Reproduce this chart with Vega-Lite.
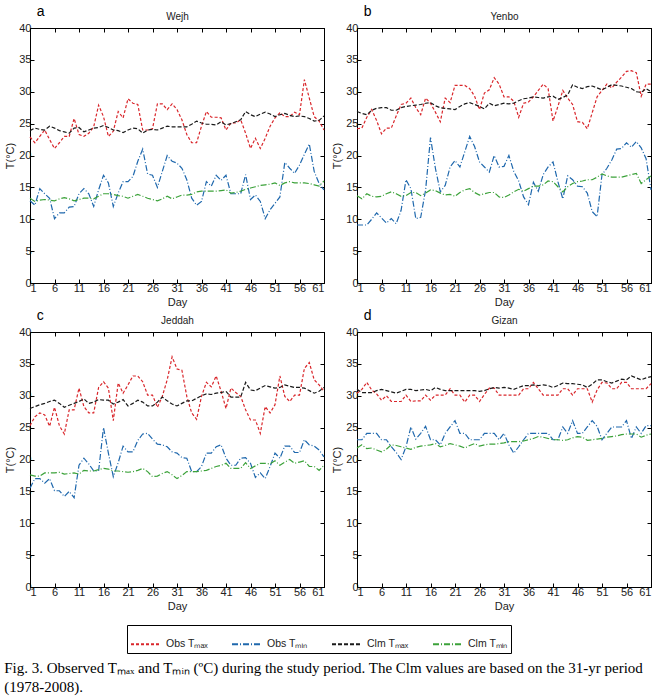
{
"$schema": "https://vega.github.io/schema/vega-lite/v6.json",
"padding": {"left": 4, "top": 4, "right": 2, "bottom": 2},
"background": "white",
"datasets": {"t": [
{"s":"Wejh","d":1,"otx":22.9,"otn":12.9,"ctx":23.9,"ctn":13.3},
{"s":"Wejh","d":2,"otx":22,"otn":12.2,"ctx":24.3,"ctn":12.8},
{"s":"Wejh","d":3,"otx":23,"otn":14.8,"ctx":24.1,"ctn":13},
{"s":"Wejh","d":4,"otx":24,"otn":14,"ctx":24,"ctn":13.1},
{"s":"Wejh","d":5,"otx":22.5,"otn":13.3,"ctx":24.6,"ctn":13},
{"s":"Wejh","d":6,"otx":21.1,"otn":10.1,"ctx":24.3,"ctn":12.9},
{"s":"Wejh","d":7,"otx":22,"otn":11,"ctx":23.9,"ctn":13.2},
{"s":"Wejh","d":8,"otx":23,"otn":11,"ctx":23.7,"ctn":13.4},
{"s":"Wejh","d":9,"otx":23,"otn":11.9,"ctx":23.5,"ctn":13.2},
{"s":"Wejh","d":10,"otx":25.8,"otn":12,"ctx":24.3,"ctn":12.9},
{"s":"Wejh","d":11,"otx":23.3,"otn":14,"ctx":24.4,"ctn":13.1},
{"s":"Wejh","d":12,"otx":23,"otn":14.8,"ctx":23.7,"ctn":13.3},
{"s":"Wejh","d":13,"otx":23.5,"otn":14,"ctx":24,"ctn":13.3},
{"s":"Wejh","d":14,"otx":24.5,"otn":12,"ctx":24.3,"ctn":13.2},
{"s":"Wejh","d":15,"otx":27.9,"otn":14.6,"ctx":24.4,"ctn":13.6},
{"s":"Wejh","d":16,"otx":26.1,"otn":16.9,"ctx":24.7,"ctn":14},
{"s":"Wejh","d":17,"otx":23,"otn":15.7,"ctx":24.4,"ctn":14},
{"s":"Wejh","d":18,"otx":23.8,"otn":12,"ctx":24,"ctn":13.9},
{"s":"Wejh","d":19,"otx":26.9,"otn":14.1,"ctx":23.9,"ctn":13.7},
{"s":"Wejh","d":20,"otx":25.9,"otn":15.9,"ctx":23.6,"ctn":13.6},
{"s":"Wejh","d":21,"otx":28.9,"otn":15.9,"ctx":24,"ctn":13.3},
{"s":"Wejh","d":22,"otx":28.2,"otn":16.7,"ctx":24.3,"ctn":13.6},
{"s":"Wejh","d":23,"otx":28,"otn":19.1,"ctx":24.2,"ctn":13.9},
{"s":"Wejh","d":24,"otx":24,"otn":21,"ctx":23.5,"ctn":13.6},
{"s":"Wejh","d":25,"otx":24,"otn":17.1,"ctx":24,"ctn":13.3},
{"s":"Wejh","d":26,"otx":24.2,"otn":16.9,"ctx":24.1,"ctn":13.1},
{"s":"Wejh","d":27,"otx":28.1,"otn":15,"ctx":24,"ctn":12.9},
{"s":"Wejh","d":28,"otx":28.1,"otn":17.5,"ctx":24.3,"ctn":13.2},
{"s":"Wejh","d":29,"otx":27.2,"otn":20,"ctx":24.6,"ctn":13.6},
{"s":"Wejh","d":30,"otx":28.1,"otn":19.1,"ctx":24.5,"ctn":13.2},
{"s":"Wejh","d":31,"otx":27.2,"otn":18.8,"ctx":24.5,"ctn":13.5},
{"s":"Wejh","d":32,"otx":25.6,"otn":18,"ctx":24.5,"ctn":13.8},
{"s":"Wejh","d":33,"otx":23.3,"otn":16.2,"ctx":24.5,"ctn":13.8},
{"s":"Wejh","d":34,"otx":22,"otn":13.3,"ctx":24.9,"ctn":13.9},
{"s":"Wejh","d":35,"otx":22,"otn":12.2,"ctx":25.4,"ctn":14.3},
{"s":"Wejh","d":36,"otx":24.6,"otn":12.8,"ctx":25.1,"ctn":14.4},
{"s":"Wejh","d":37,"otx":26.9,"otn":15.9,"ctx":24.9,"ctn":14.4},
{"s":"Wejh","d":38,"otx":26,"otn":15.2,"ctx":24.9,"ctn":14.4},
{"s":"Wejh","d":39,"otx":26,"otn":16.9,"ctx":24.8,"ctn":14.4},
{"s":"Wejh","d":40,"otx":25.9,"otn":16.1,"ctx":25.3,"ctn":14.5},
{"s":"Wejh","d":41,"otx":24,"otn":16.9,"ctx":24.8,"ctn":14.6},
{"s":"Wejh","d":42,"otx":25.1,"otn":14,"ctx":25,"ctn":14.1},
{"s":"Wejh","d":43,"otx":25.1,"otn":14,"ctx":25.3,"ctn":14.2},
{"s":"Wejh","d":44,"otx":25.6,"otn":14,"ctx":25.6,"ctn":14.4},
{"s":"Wejh","d":45,"otx":23.5,"otn":17,"ctx":26.9,"ctn":14.7},
{"s":"Wejh","d":46,"otx":21.1,"otn":13.1,"ctx":26.4,"ctn":14.9},
{"s":"Wejh","d":47,"otx":22.7,"otn":13.8,"ctx":26.1,"ctn":15.1},
{"s":"Wejh","d":48,"otx":21.1,"otn":12.8,"ctx":26.5,"ctn":15.3},
{"s":"Wejh","d":49,"otx":22.7,"otn":10.1,"ctx":26.8,"ctn":15.4},
{"s":"Wejh","d":50,"otx":24.6,"otn":11.5,"ctx":26.5,"ctn":15.5},
{"s":"Wejh","d":51,"otx":25.9,"otn":12.5,"ctx":26.1,"ctn":15.7},
{"s":"Wejh","d":52,"otx":26.7,"otn":13.5,"ctx":26.4,"ctn":15.3},
{"s":"Wejh","d":53,"otx":26.1,"otn":18.9,"ctx":26.6,"ctn":15.7},
{"s":"Wejh","d":54,"otx":26.1,"otn":18,"ctx":26.3,"ctn":15.9},
{"s":"Wejh","d":55,"otx":26.8,"otn":17.2,"ctx":26.1,"ctn":15.7},
{"s":"Wejh","d":56,"otx":26.4,"otn":18.5,"ctx":26.2,"ctn":15.7},
{"s":"Wejh","d":57,"otx":31.9,"otn":20.2,"ctx":26.1,"ctn":15.7},
{"s":"Wejh","d":58,"otx":29,"otn":21.8,"ctx":25.8,"ctn":15.6},
{"s":"Wejh","d":59,"otx":26.1,"otn":17.5,"ctx":25.4,"ctn":15.4},
{"s":"Wejh","d":60,"otx":25.4,"otn":15.6,"ctx":25.5,"ctn":15.2},
{"s":"Wejh","d":61,"otx":24,"otn":14.6,"ctx":26.2,"ctn":16},
{"s":"Yenbo","d":1,"otx":24.2,"otn":9.1,"ctx":26.9,"ctn":13.7},
{"s":"Yenbo","d":2,"otx":24.3,"otn":9.1,"ctx":26.6,"ctn":13.2},
{"s":"Yenbo","d":3,"otx":26,"otn":9.1,"ctx":26.4,"ctn":14},
{"s":"Yenbo","d":4,"otx":27.2,"otn":10,"ctx":27.1,"ctn":13.6},
{"s":"Yenbo","d":5,"otx":25.5,"otn":11,"ctx":27.4,"ctn":13.5},
{"s":"Yenbo","d":6,"otx":23.4,"otn":10.2,"ctx":27.5,"ctn":13.6},
{"s":"Yenbo","d":7,"otx":24.3,"otn":9.4,"ctx":27.5,"ctn":14},
{"s":"Yenbo","d":8,"otx":24.3,"otn":10.1,"ctx":27.1,"ctn":14.3},
{"s":"Yenbo","d":9,"otx":26.2,"otn":9.3,"ctx":27.1,"ctn":14},
{"s":"Yenbo","d":10,"otx":28,"otn":11.4,"ctx":27.5,"ctn":13.6},
{"s":"Yenbo","d":11,"otx":28.2,"otn":16.2,"ctx":27.7,"ctn":13.7},
{"s":"Yenbo","d":12,"otx":29,"otn":14.8,"ctx":27.8,"ctn":14.2},
{"s":"Yenbo","d":13,"otx":27.5,"otn":10.1,"ctx":27.9,"ctn":14.2},
{"s":"Yenbo","d":14,"otx":26.4,"otn":10.3,"ctx":28,"ctn":13.7},
{"s":"Yenbo","d":15,"otx":29,"otn":14.6,"ctx":28.2,"ctn":14.1},
{"s":"Yenbo","d":16,"otx":28.2,"otn":22.8,"ctx":28.3,"ctn":14.6},
{"s":"Yenbo","d":17,"otx":26.8,"otn":18,"ctx":27.8,"ctn":14.5},
{"s":"Yenbo","d":18,"otx":25.3,"otn":14.3,"ctx":27.5,"ctn":14.1},
{"s":"Yenbo","d":19,"otx":29,"otn":15.3,"ctx":27.4,"ctn":13.8},
{"s":"Yenbo","d":20,"otx":28.3,"otn":18.2,"ctx":27.3,"ctn":13.9},
{"s":"Yenbo","d":21,"otx":31,"otn":19.2,"ctx":27.2,"ctn":13.6},
{"s":"Yenbo","d":22,"otx":31,"otn":18.2,"ctx":27.7,"ctn":14.2},
{"s":"Yenbo","d":23,"otx":31,"otn":20.6,"ctx":28.1,"ctn":14.6},
{"s":"Yenbo","d":24,"otx":30.5,"otn":23,"ctx":28.3,"ctn":14.8},
{"s":"Yenbo","d":25,"otx":29.3,"otn":21.4,"ctx":28,"ctn":14.2},
{"s":"Yenbo","d":26,"otx":27.2,"otn":19,"ctx":27.7,"ctn":13.8},
{"s":"Yenbo","d":27,"otx":29.8,"otn":18.2,"ctx":27.3,"ctn":14},
{"s":"Yenbo","d":28,"otx":30.3,"otn":17.4,"ctx":28.2,"ctn":14.2},
{"s":"Yenbo","d":29,"otx":32.2,"otn":20,"ctx":27.8,"ctn":14.2},
{"s":"Yenbo","d":30,"otx":31.2,"otn":18.2,"ctx":28,"ctn":13.5},
{"s":"Yenbo","d":31,"otx":29.2,"otn":18.3,"ctx":28.2,"ctn":13.4},
{"s":"Yenbo","d":32,"otx":29.2,"otn":20,"ctx":28.1,"ctn":13.8},
{"s":"Yenbo","d":33,"otx":28.5,"otn":17.5,"ctx":28.2,"ctn":14.3},
{"s":"Yenbo","d":34,"otx":26,"otn":16,"ctx":28.6,"ctn":14.7},
{"s":"Yenbo","d":35,"otx":28.2,"otn":13.5,"ctx":28.9,"ctn":14.4},
{"s":"Yenbo","d":36,"otx":28.4,"otn":12.3,"ctx":29,"ctn":14.8},
{"s":"Yenbo","d":37,"otx":29.2,"otn":15.8,"ctx":29.2,"ctn":15.2},
{"s":"Yenbo","d":38,"otx":30.2,"otn":14.4,"ctx":29.1,"ctn":15.2},
{"s":"Yenbo","d":39,"otx":31.2,"otn":17,"ctx":29,"ctn":15.4},
{"s":"Yenbo","d":40,"otx":30.5,"otn":18.2,"ctx":29.2,"ctn":16},
{"s":"Yenbo","d":41,"otx":25.4,"otn":19,"ctx":29.3,"ctn":15.9},
{"s":"Yenbo","d":42,"otx":27.7,"otn":15.9,"ctx":28.8,"ctn":15.1},
{"s":"Yenbo","d":43,"otx":30.2,"otn":13.2,"ctx":29.1,"ctn":14.3},
{"s":"Yenbo","d":44,"otx":29,"otn":16.8,"ctx":29.5,"ctn":15.1},
{"s":"Yenbo","d":45,"otx":28,"otn":16.2,"ctx":31.1,"ctn":15.6},
{"s":"Yenbo","d":46,"otx":25.3,"otn":15.2,"ctx":30.7,"ctn":15.9},
{"s":"Yenbo","d":47,"otx":25.2,"otn":15.1,"ctx":30.5,"ctn":16},
{"s":"Yenbo","d":48,"otx":24.2,"otn":14.1,"ctx":30.8,"ctn":16.2},
{"s":"Yenbo","d":49,"otx":26.7,"otn":11.2,"ctx":30.9,"ctn":16.2},
{"s":"Yenbo","d":50,"otx":29.2,"otn":10.4,"ctx":30.6,"ctn":16.6},
{"s":"Yenbo","d":51,"otx":30.2,"otn":17,"ctx":30.3,"ctn":17.1},
{"s":"Yenbo","d":52,"otx":31.2,"otn":18,"ctx":30.7,"ctn":16.8},
{"s":"Yenbo","d":53,"otx":30.6,"otn":19.3,"ctx":31.1,"ctn":16.6},
{"s":"Yenbo","d":54,"otx":31.5,"otn":21,"ctx":31,"ctn":16.6},
{"s":"Yenbo","d":55,"otx":32.3,"otn":21.1,"ctx":30.9,"ctn":16.6},
{"s":"Yenbo","d":56,"otx":33.2,"otn":22,"ctx":30.7,"ctn":16.8},
{"s":"Yenbo","d":57,"otx":33.3,"otn":21.3,"ctx":30.5,"ctn":17},
{"s":"Yenbo","d":58,"otx":33,"otn":22.2,"ctx":30,"ctn":17.2},
{"s":"Yenbo","d":59,"otx":29.3,"otn":21.2,"ctx":29.9,"ctn":15.6},
{"s":"Yenbo","d":60,"otx":31.2,"otn":19.5,"ctx":30.5,"ctn":16.2},
{"s":"Yenbo","d":61,"otx":31.2,"otn":14.6,"ctx":30,"ctn":16.8},
{"s":"Jeddah","d":1,"otx":25.3,"otn":15.5,"ctx":28,"ctn":17.6},
{"s":"Jeddah","d":2,"otx":26.7,"otn":17,"ctx":28.3,"ctn":17.4},
{"s":"Jeddah","d":3,"otx":27.3,"otn":17,"ctx":28.6,"ctn":17.4},
{"s":"Jeddah","d":4,"otx":27,"otn":16.3,"ctx":28.8,"ctn":17.9},
{"s":"Jeddah","d":5,"otx":25.2,"otn":17,"ctx":29.1,"ctn":17.9},
{"s":"Jeddah","d":6,"otx":28.2,"otn":15.1,"ctx":29.3,"ctn":17.9},
{"s":"Jeddah","d":7,"otx":25.3,"otn":15.1,"ctx":28.8,"ctn":18},
{"s":"Jeddah","d":8,"otx":24,"otn":14.2,"ctx":28.2,"ctn":17.7},
{"s":"Jeddah","d":9,"otx":27.8,"otn":15,"ctx":28.5,"ctn":17.8},
{"s":"Jeddah","d":10,"otx":27.8,"otn":14,"ctx":28.8,"ctn":17.9},
{"s":"Jeddah","d":11,"otx":31.2,"otn":19.1,"ctx":29.1,"ctn":17.7},
{"s":"Jeddah","d":12,"otx":28.3,"otn":20.2,"ctx":29.5,"ctn":18.3},
{"s":"Jeddah","d":13,"otx":27.3,"otn":19.3,"ctx":28.8,"ctn":18.2},
{"s":"Jeddah","d":14,"otx":27.3,"otn":18.2,"ctx":29,"ctn":18.2},
{"s":"Jeddah","d":15,"otx":31.3,"otn":18.2,"ctx":29.4,"ctn":18.4},
{"s":"Jeddah","d":16,"otx":32.2,"otn":25,"ctx":29.3,"ctn":18.6},
{"s":"Jeddah","d":17,"otx":31.2,"otn":21,"ctx":29.3,"ctn":18.5},
{"s":"Jeddah","d":18,"otx":26.1,"otn":17.3,"ctx":28.7,"ctn":18.2},
{"s":"Jeddah","d":19,"otx":32,"otn":19.5,"ctx":29,"ctn":18.2},
{"s":"Jeddah","d":20,"otx":30.4,"otn":22.1,"ctx":29.4,"ctn":18.1},
{"s":"Jeddah","d":21,"otx":31.7,"otn":21.2,"ctx":28.4,"ctn":18},
{"s":"Jeddah","d":22,"otx":33.1,"otn":21.2,"ctx":28.8,"ctn":18.1},
{"s":"Jeddah","d":23,"otx":33.1,"otn":23,"ctx":29.3,"ctn":18.3},
{"s":"Jeddah","d":24,"otx":32.2,"otn":24,"ctx":29,"ctn":18.6},
{"s":"Jeddah","d":25,"otx":30.1,"otn":24.1,"ctx":28.4,"ctn":18.1},
{"s":"Jeddah","d":26,"otx":30.1,"otn":23.2,"ctx":28.4,"ctn":17.3},
{"s":"Jeddah","d":27,"otx":28.2,"otn":22.4,"ctx":29,"ctn":17.4},
{"s":"Jeddah","d":28,"otx":29.9,"otn":22.3,"ctx":29.8,"ctn":17.8},
{"s":"Jeddah","d":29,"otx":32.5,"otn":22,"ctx":29.2,"ctn":18.1},
{"s":"Jeddah","d":30,"otx":36.1,"otn":21.2,"ctx":28.7,"ctn":17.6},
{"s":"Jeddah","d":31,"otx":34.2,"otn":21,"ctx":28.4,"ctn":17},
{"s":"Jeddah","d":32,"otx":34,"otn":20.3,"ctx":28.8,"ctn":17.5},
{"s":"Jeddah","d":33,"otx":29.9,"otn":20.2,"ctx":29.2,"ctn":18.1},
{"s":"Jeddah","d":34,"otx":27.3,"otn":18.1,"ctx":29.2,"ctn":18.1},
{"s":"Jeddah","d":35,"otx":26.3,"otn":18.1,"ctx":29.6,"ctn":18.1},
{"s":"Jeddah","d":36,"otx":29.9,"otn":18.9,"ctx":30,"ctn":18.2},
{"s":"Jeddah","d":37,"otx":32.1,"otn":21,"ctx":30.3,"ctn":18.3},
{"s":"Jeddah","d":38,"otx":31.4,"otn":21,"ctx":30.2,"ctn":18.6},
{"s":"Jeddah","d":39,"otx":33.1,"otn":22,"ctx":30.4,"ctn":18.9},
{"s":"Jeddah","d":40,"otx":30.7,"otn":22.3,"ctx":30.5,"ctn":19.1},
{"s":"Jeddah","d":41,"otx":28,"otn":20.2,"ctx":30.7,"ctn":19.4},
{"s":"Jeddah","d":42,"otx":31.2,"otn":19.1,"ctx":29.8,"ctn":18.6},
{"s":"Jeddah","d":43,"otx":30.5,"otn":19.1,"ctx":29.8,"ctn":18.6},
{"s":"Jeddah","d":44,"otx":29.9,"otn":20.2,"ctx":29.8,"ctn":18.6},
{"s":"Jeddah","d":45,"otx":27.8,"otn":20.3,"ctx":32.1,"ctn":19.5},
{"s":"Jeddah","d":46,"otx":26.2,"otn":19.4,"ctx":30.9,"ctn":18.6},
{"s":"Jeddah","d":47,"otx":26.2,"otn":17.2,"ctx":30.8,"ctn":19},
{"s":"Jeddah","d":48,"otx":24.1,"otn":17.9,"ctx":31.2,"ctn":19.4},
{"s":"Jeddah","d":49,"otx":28.3,"otn":17,"ctx":31.6,"ctn":19.4},
{"s":"Jeddah","d":50,"otx":27.3,"otn":18.9,"ctx":31.4,"ctn":19.3},
{"s":"Jeddah","d":51,"otx":28.6,"otn":21,"ctx":31.2,"ctn":19.8},
{"s":"Jeddah","d":52,"otx":33.1,"otn":20.2,"ctx":31.3,"ctn":19.1},
{"s":"Jeddah","d":53,"otx":29.9,"otn":22.1,"ctx":31.7,"ctn":19.6},
{"s":"Jeddah","d":54,"otx":29.1,"otn":22.1,"ctx":31.5,"ctn":20},
{"s":"Jeddah","d":55,"otx":30.1,"otn":21.1,"ctx":31.3,"ctn":19.4},
{"s":"Jeddah","d":56,"otx":30.1,"otn":21.1,"ctx":31.3,"ctn":19.6},
{"s":"Jeddah","d":57,"otx":34.3,"otn":23.1,"ctx":31.2,"ctn":19.8},
{"s":"Jeddah","d":58,"otx":35.2,"otn":22.3,"ctx":30.8,"ctn":18.9},
{"s":"Jeddah","d":59,"otx":32.5,"otn":22.1,"ctx":30.4,"ctn":18.9},
{"s":"Jeddah","d":60,"otx":31.7,"otn":21.5,"ctx":30.7,"ctn":18.3},
{"s":"Jeddah","d":61,"otx":30.7,"otn":20.4,"ctx":31.3,"ctn":19.1},
{"s":"Gizan","d":1,"otx":30.4,"otn":23.1,"ctx":31,"ctn":21.8},
{"s":"Gizan","d":2,"otx":31,"otn":23.1,"ctx":30.5,"ctn":22.3},
{"s":"Gizan","d":3,"otx":32.1,"otn":24.1,"ctx":30.5,"ctn":21.7},
{"s":"Gizan","d":4,"otx":30.9,"otn":24.1,"ctx":30.5,"ctn":21.8},
{"s":"Gizan","d":5,"otx":30.3,"otn":24.1,"ctx":30.8,"ctn":21.5},
{"s":"Gizan","d":6,"otx":29.3,"otn":23.1,"ctx":31,"ctn":21.2},
{"s":"Gizan","d":7,"otx":30,"otn":23.1,"ctx":30.8,"ctn":21.6},
{"s":"Gizan","d":8,"otx":29.1,"otn":22,"ctx":30.6,"ctn":22.3},
{"s":"Gizan","d":9,"otx":29.1,"otn":21.1,"ctx":30.4,"ctn":22.2},
{"s":"Gizan","d":10,"otx":29.1,"otn":20,"ctx":30.7,"ctn":22},
{"s":"Gizan","d":11,"otx":30.1,"otn":22,"ctx":31,"ctn":21.8},
{"s":"Gizan","d":12,"otx":29.1,"otn":25.1,"ctx":31,"ctn":21.6},
{"s":"Gizan","d":13,"otx":29.2,"otn":23.2,"ctx":30.8,"ctn":21.9},
{"s":"Gizan","d":14,"otx":29.2,"otn":24.1,"ctx":30.9,"ctn":22.1},
{"s":"Gizan","d":15,"otx":30.1,"otn":25.2,"ctx":31,"ctn":22.2},
{"s":"Gizan","d":16,"otx":29.3,"otn":23.1,"ctx":30.8,"ctn":22.3},
{"s":"Gizan","d":17,"otx":30.1,"otn":23.1,"ctx":31.3,"ctn":22.5},
{"s":"Gizan","d":18,"otx":30.1,"otn":22.3,"ctx":31,"ctn":22},
{"s":"Gizan","d":19,"otx":30.1,"otn":24.1,"ctx":30.8,"ctn":22.2},
{"s":"Gizan","d":20,"otx":31.1,"otn":25.1,"ctx":30.8,"ctn":22.5},
{"s":"Gizan","d":21,"otx":30.1,"otn":26.1,"ctx":30.8,"ctn":22.3},
{"s":"Gizan","d":22,"otx":30.1,"otn":24.1,"ctx":30.8,"ctn":22.1},
{"s":"Gizan","d":23,"otx":29,"otn":24.1,"ctx":30.8,"ctn":21.8},
{"s":"Gizan","d":24,"otx":30.1,"otn":23.1,"ctx":30.8,"ctn":22.2},
{"s":"Gizan","d":25,"otx":30.1,"otn":23.1,"ctx":30.8,"ctn":22.5},
{"s":"Gizan","d":26,"otx":29.1,"otn":23.1,"ctx":30.7,"ctn":22.1},
{"s":"Gizan","d":27,"otx":30.2,"otn":24.1,"ctx":30.8,"ctn":22.3},
{"s":"Gizan","d":28,"otx":31.2,"otn":24.1,"ctx":31.1,"ctn":22.4},
{"s":"Gizan","d":29,"otx":31.2,"otn":24.1,"ctx":31.3,"ctn":22.4},
{"s":"Gizan","d":30,"otx":30.1,"otn":23.1,"ctx":31.2,"ctn":22.5},
{"s":"Gizan","d":31,"otx":30.1,"otn":24.1,"ctx":31.3,"ctn":22.6},
{"s":"Gizan","d":32,"otx":30.1,"otn":22.3,"ctx":31.2,"ctn":22.8},
{"s":"Gizan","d":33,"otx":30.1,"otn":21,"ctx":31,"ctn":22.8},
{"s":"Gizan","d":34,"otx":30.1,"otn":22,"ctx":31.3,"ctn":22.8},
{"s":"Gizan","d":35,"otx":31.1,"otn":23.1,"ctx":31.6,"ctn":22.9},
{"s":"Gizan","d":36,"otx":31.1,"otn":24.1,"ctx":31.6,"ctn":23.1},
{"s":"Gizan","d":37,"otx":32.1,"otn":24.1,"ctx":31.7,"ctn":23.3},
{"s":"Gizan","d":38,"otx":31.1,"otn":24.1,"ctx":31.6,"ctn":23.6},
{"s":"Gizan","d":39,"otx":30.1,"otn":24.1,"ctx":31.7,"ctn":23.5},
{"s":"Gizan","d":40,"otx":30.1,"otn":24.1,"ctx":31.6,"ctn":23.3},
{"s":"Gizan","d":41,"otx":30.1,"otn":23.1,"ctx":31.3,"ctn":23.1},
{"s":"Gizan","d":42,"otx":30.1,"otn":23.1,"ctx":31.6,"ctn":23.1},
{"s":"Gizan","d":43,"otx":31.1,"otn":25.1,"ctx":32,"ctn":23},
{"s":"Gizan","d":44,"otx":31.1,"otn":24.1,"ctx":31.9,"ctn":23.1},
{"s":"Gizan","d":45,"otx":30.1,"otn":26.1,"ctx":31.9,"ctn":23.4},
{"s":"Gizan","d":46,"otx":31.1,"otn":24.1,"ctx":31.8,"ctn":23.6},
{"s":"Gizan","d":47,"otx":31.1,"otn":24.1,"ctx":31.7,"ctn":23.5},
{"s":"Gizan","d":48,"otx":31.1,"otn":25.1,"ctx":31.3,"ctn":23},
{"s":"Gizan","d":49,"otx":29,"otn":26.1,"ctx":31.8,"ctn":23.1},
{"s":"Gizan","d":50,"otx":30.9,"otn":25.2,"ctx":32.5,"ctn":23.2},
{"s":"Gizan","d":51,"otx":32.1,"otn":23.1,"ctx":32.5,"ctn":23.3},
{"s":"Gizan","d":52,"otx":32,"otn":24.1,"ctx":32.2,"ctn":23.5},
{"s":"Gizan","d":53,"otx":31.1,"otn":25.1,"ctx":32,"ctn":23.6},
{"s":"Gizan","d":54,"otx":31.1,"otn":25.1,"ctx":32.3,"ctn":23.7},
{"s":"Gizan","d":55,"otx":32.1,"otn":25.1,"ctx":32.6,"ctn":23.9},
{"s":"Gizan","d":56,"otx":32.1,"otn":26.1,"ctx":32.5,"ctn":24},
{"s":"Gizan","d":57,"otx":31.1,"otn":23.3,"ctx":33.1,"ctn":24},
{"s":"Gizan","d":58,"otx":31.1,"otn":25.1,"ctx":32.8,"ctn":24},
{"s":"Gizan","d":59,"otx":31.1,"otn":24.1,"ctx":32.5,"ctn":23.5},
{"s":"Gizan","d":60,"otx":31.1,"otn":25.3,"ctx":32.8,"ctn":23.8},
{"s":"Gizan","d":61,"otx":31.9,"otn":25.3,"ctx":33,"ctn":24}
]},
"title": {"text": ["Fig. 3. Observed Tₘₐₓ and Tₘᵢₙ (ºC) during the study period. The Clm values are based on the 31-yr period", "(1978-2008)."], "orient": "bottom", "anchor": "start", "font": "Liberation Serif", "fontSize": 15, "fontWeight": "normal", "color": "black", "lineHeight": 19, "offset": 7},
"spacing": 0,
"vconcat": [
{"hconcat": [
{"width": 294, "height": 255,
 "title": {"text": "a", "anchor": "start", "dx": 32, "offset": -7},
 "data": {"name": "t"},
 "transform": [{"filter": "datum.s === 'Wejh'"}, {"fold": ["otx", "otn", "ctx", "ctn"], "as": ["k", "v"]}],
 "resolve": {"axis": {"x": "independent", "y": "independent"}},
 "layer": [
  {"mark": {"type": "line", "strokeWidth": 1.2},
   "encoding": {
    "x": {"field": "d", "type": "quantitative", "scale": {"domain": [1, 61], "nice": false, "zero": false}, "axis": {"orient": "bottom", "title": "Day", "values": [1,6,11,16,21,26,31,36,41,46,51,56,61]}},
    "y": {"field": "v", "type": "quantitative", "scale": {"domain": [0, 40], "nice": false}, "axis": {"orient": "left", "title": "T(°C)", "values": [0,5,10,15,20,25,30,35,40]}},
    "color": {"field": "k", "type": "nominal", "scale": {"domain": ["otx","otn","ctx","ctn"], "range": ["#d9262b","#1f68ad","#1a1a1a","#3ca23a"]}, "legend": {"labelExpr": "datum.label === 'otx' ? 'Obs Tₘₐₓ' : datum.label === 'otn' ? 'Obs Tₘᵢₙ' : datum.label === 'ctx' ? 'Clm Tₘₐₓ' : 'Clm Tₘᵢₙ'"}},
    "strokeDash": {"field": "k", "type": "nominal", "scale": {"domain": ["otx","otn","ctx","ctn"], "range": [[3,2],[6,2,1,2],[4,2],[6,2,1,2]]}, "legend": {"labelExpr": "datum.label === 'otx' ? 'Obs Tₘₐₓ' : datum.label === 'otn' ? 'Obs Tₘᵢₙ' : datum.label === 'ctx' ? 'Clm Tₘₐₓ' : 'Clm Tₘᵢₙ'"}}
   }},
  {"mark": {"type": "line", "opacity": 0},
   "encoding": {
    "x": {"field": "d", "type": "quantitative", "axis": {"orient": "top", "title": "Wejh", "labels": false, "values": [1,6,11,16,21,26,31,36,41,46,51,56,61]}},
    "y": {"field": "v", "type": "quantitative", "axis": {"orient": "right", "title": null, "labels": false, "values": [0,5,10,15,20,25,30,35,40]}},
    "detail": {"field": "k"}
   }}
 ]},
{"width": 294, "height": 255,
 "title": {"text": "b", "anchor": "start", "dx": 32, "offset": -7},
 "data": {"name": "t"},
 "transform": [{"filter": "datum.s === 'Yenbo'"}, {"fold": ["otx", "otn", "ctx", "ctn"], "as": ["k", "v"]}],
 "resolve": {"axis": {"x": "independent", "y": "independent"}},
 "layer": [
  {"mark": {"type": "line", "strokeWidth": 1.2},
   "encoding": {
    "x": {"field": "d", "type": "quantitative", "scale": {"domain": [1, 61], "nice": false, "zero": false}, "axis": {"orient": "bottom", "title": "Day", "values": [1,6,11,16,21,26,31,36,41,46,51,56,61]}},
    "y": {"field": "v", "type": "quantitative", "scale": {"domain": [0, 40], "nice": false}, "axis": {"orient": "left", "title": "T(°C)", "values": [0,5,10,15,20,25,30,35,40]}},
    "color": {"field": "k", "type": "nominal", "scale": {"domain": ["otx","otn","ctx","ctn"], "range": ["#d9262b","#1f68ad","#1a1a1a","#3ca23a"]}, "legend": {"labelExpr": "datum.label === 'otx' ? 'Obs Tₘₐₓ' : datum.label === 'otn' ? 'Obs Tₘᵢₙ' : datum.label === 'ctx' ? 'Clm Tₘₐₓ' : 'Clm Tₘᵢₙ'"}},
    "strokeDash": {"field": "k", "type": "nominal", "scale": {"domain": ["otx","otn","ctx","ctn"], "range": [[3,2],[6,2,1,2],[4,2],[6,2,1,2]]}, "legend": {"labelExpr": "datum.label === 'otx' ? 'Obs Tₘₐₓ' : datum.label === 'otn' ? 'Obs Tₘᵢₙ' : datum.label === 'ctx' ? 'Clm Tₘₐₓ' : 'Clm Tₘᵢₙ'"}}
   }},
  {"mark": {"type": "line", "opacity": 0},
   "encoding": {
    "x": {"field": "d", "type": "quantitative", "axis": {"orient": "top", "title": "Yenbo", "labels": false, "values": [1,6,11,16,21,26,31,36,41,46,51,56,61]}},
    "y": {"field": "v", "type": "quantitative", "axis": {"orient": "right", "title": null, "labels": false, "values": [0,5,10,15,20,25,30,35,40]}},
    "detail": {"field": "k"}
   }}
 ]}
], "spacing": 4},
{"hconcat": [
{"width": 294, "height": 255,
 "title": {"text": "c", "anchor": "start", "dx": 32, "offset": -7},
 "data": {"name": "t"},
 "transform": [{"filter": "datum.s === 'Jeddah'"}, {"fold": ["otx", "otn", "ctx", "ctn"], "as": ["k", "v"]}],
 "resolve": {"axis": {"x": "independent", "y": "independent"}},
 "layer": [
  {"mark": {"type": "line", "strokeWidth": 1.2},
   "encoding": {
    "x": {"field": "d", "type": "quantitative", "scale": {"domain": [1, 61], "nice": false, "zero": false}, "axis": {"orient": "bottom", "title": "Day", "values": [1,6,11,16,21,26,31,36,41,46,51,56,61]}},
    "y": {"field": "v", "type": "quantitative", "scale": {"domain": [0, 40], "nice": false}, "axis": {"orient": "left", "title": "T(°C)", "values": [0,5,10,15,20,25,30,35,40]}},
    "color": {"field": "k", "type": "nominal", "scale": {"domain": ["otx","otn","ctx","ctn"], "range": ["#d9262b","#1f68ad","#1a1a1a","#3ca23a"]}, "legend": {"labelExpr": "datum.label === 'otx' ? 'Obs Tₘₐₓ' : datum.label === 'otn' ? 'Obs Tₘᵢₙ' : datum.label === 'ctx' ? 'Clm Tₘₐₓ' : 'Clm Tₘᵢₙ'"}},
    "strokeDash": {"field": "k", "type": "nominal", "scale": {"domain": ["otx","otn","ctx","ctn"], "range": [[3,2],[6,2,1,2],[4,2],[6,2,1,2]]}, "legend": {"labelExpr": "datum.label === 'otx' ? 'Obs Tₘₐₓ' : datum.label === 'otn' ? 'Obs Tₘᵢₙ' : datum.label === 'ctx' ? 'Clm Tₘₐₓ' : 'Clm Tₘᵢₙ'"}}
   }},
  {"mark": {"type": "line", "opacity": 0},
   "encoding": {
    "x": {"field": "d", "type": "quantitative", "axis": {"orient": "top", "title": "Jeddah", "labels": false, "values": [1,6,11,16,21,26,31,36,41,46,51,56,61]}},
    "y": {"field": "v", "type": "quantitative", "axis": {"orient": "right", "title": null, "labels": false, "values": [0,5,10,15,20,25,30,35,40]}},
    "detail": {"field": "k"}
   }}
 ]},
{"width": 294, "height": 255,
 "title": {"text": "d", "anchor": "start", "dx": 32, "offset": -7},
 "data": {"name": "t"},
 "transform": [{"filter": "datum.s === 'Gizan'"}, {"fold": ["otx", "otn", "ctx", "ctn"], "as": ["k", "v"]}],
 "resolve": {"axis": {"x": "independent", "y": "independent"}},
 "layer": [
  {"mark": {"type": "line", "strokeWidth": 1.2},
   "encoding": {
    "x": {"field": "d", "type": "quantitative", "scale": {"domain": [1, 61], "nice": false, "zero": false}, "axis": {"orient": "bottom", "title": "Day", "values": [1,6,11,16,21,26,31,36,41,46,51,56,61]}},
    "y": {"field": "v", "type": "quantitative", "scale": {"domain": [0, 40], "nice": false}, "axis": {"orient": "left", "title": "T(°C)", "values": [0,5,10,15,20,25,30,35,40]}},
    "color": {"field": "k", "type": "nominal", "scale": {"domain": ["otx","otn","ctx","ctn"], "range": ["#d9262b","#1f68ad","#1a1a1a","#3ca23a"]}, "legend": {"labelExpr": "datum.label === 'otx' ? 'Obs Tₘₐₓ' : datum.label === 'otn' ? 'Obs Tₘᵢₙ' : datum.label === 'ctx' ? 'Clm Tₘₐₓ' : 'Clm Tₘᵢₙ'"}},
    "strokeDash": {"field": "k", "type": "nominal", "scale": {"domain": ["otx","otn","ctx","ctn"], "range": [[3,2],[6,2,1,2],[4,2],[6,2,1,2]]}, "legend": {"labelExpr": "datum.label === 'otx' ? 'Obs Tₘₐₓ' : datum.label === 'otn' ? 'Obs Tₘᵢₙ' : datum.label === 'ctx' ? 'Clm Tₘₐₓ' : 'Clm Tₘᵢₙ'"}}
   }},
  {"mark": {"type": "line", "opacity": 0},
   "encoding": {
    "x": {"field": "d", "type": "quantitative", "axis": {"orient": "top", "title": "Gizan", "labels": false, "values": [1,6,11,16,21,26,31,36,41,46,51,56,61]}},
    "y": {"field": "v", "type": "quantitative", "axis": {"orient": "right", "title": null, "labels": false, "values": [0,5,10,15,20,25,30,35,40]}},
    "detail": {"field": "k"}
   }}
 ]}
], "spacing": 4}
],
"config": {
 "font": "Liberation Sans",
 "view": {"stroke": "black", "strokeWidth": 1},
 "axis": {"labelFontSize": 11, "labelColor": "#222", "titleFontSize": 11, "titleFontWeight": "normal", "titleColor": "#222", "domainColor": "black", "tickColor": "black", "tickSize": -4, "labelPadding": 3, "titlePadding": 3, "grid": false},
 "axisTop": {"titleFontSize": 10, "titlePadding": 6},
 "title": {"fontSize": 14, "fontWeight": "normal", "color": "black"},
 "legend": {"orient": "none", "legendX": 97, "legendY": 597, "direction": "horizontal", "title": null, "strokeColor": "black", "padding": 3, "symbolType": "stroke", "symbolSize": 900, "symbolStrokeWidth": 2, "labelFontSize": 10.5, "labelColor": "#222", "columnPadding": 20}
}
}
